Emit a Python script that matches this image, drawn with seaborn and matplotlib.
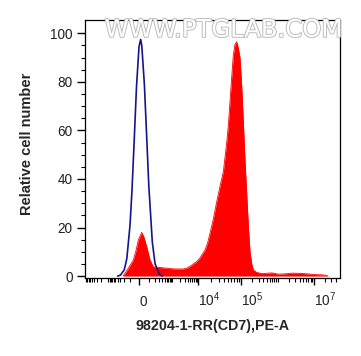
import numpy as np
import seaborn as sns
import matplotlib
matplotlib.use('Agg')
import matplotlib.pyplot as plt
import matplotlib.patheffects as pe

# isotype control (blue outline) and CD7 stained sample (red fill)
blue_x = [-400, -300, -200, -150, -100, -75, -50, -25, 0, 15, 25, 50, 75, 100, 150, 200, 300, 400]
blue_y = [0, 0.4, 2.6, 7.2, 21, 35, 55, 78, 94.5, 97.5, 95, 79, 57, 37, 14, 5, 0.8, 0]

red_x = [-230, -130, -59, -30, -7, 24.5, 46, 75, 116, 166,
         266, 512, 966, 1510, 2600, 3720, 4880, 6560, 8890,
         1.113e4, 1.307e4, 1.455e4, 1.663e4, 1.901e4, 2.27e4, 2.72e4, 3.25e4, 3.88e4, 4.25e4,
         4.65e4, 5.07e4, 5.55e4, 6.08e4, 6.62e4, 7.25e4, 7.94e4, 8.65e4, 9.48e4,
         1.045e5, 1.154e5, 1.28e5, 1.426e5, 1.575e5, 1.75e5, 1.95e5, 2.15e5, 2.66e5,
         3.7e5, 5.37e5, 6.88e5, 1e6, 1.56e6, 2.45e6, 4.08e6, 6.81e6, 1.07e7, 1.67e7, 2.15e7, 2.45e7]
red_y = [0, 3, 6.6, 10.5, 14.8, 18, 16, 12, 6.6, 3.8,
         3.6, 3.3, 3.0, 2.9, 2.9, 3.3, 4.0, 5.0, 6.0,
         7.5, 9.5, 10.7, 13.5, 17.6, 23.5, 30.6, 37, 43, 49,
         55, 62, 72, 82, 91, 95.5, 96.5, 94, 90,
         78, 64, 48, 34, 21, 10, 5, 2.5, 1.5,
         1.0, 1.2, 1.3, 0.8, 0.9, 1.2, 1.1, 0.9, 0.6, 0.5, 0.3, 0]

x_ticks = [0, 1e4, 1e5, 1e7]
x_ticklabels = ['0', r'$\mathregular{10^4}$', r'$\mathregular{10^5}$', r'$\mathregular{10^7}$']

# biexponential-like display scale (arcsinh, then piecewise stretch per decade)
LN10 = np.log(10)
knot_vals = np.array([-1e4, 0, 1e4, 1e5, 1e6, 1e7, 1e8])
knot_disp = np.array([0, 54, 113, 156, 193, 229, 265], dtype=float)


def _s(v):
    return np.arcsinh(np.asarray(v, dtype=float) / 100.0) / LN10


knot_s = _s(knot_vals)


def fwd(v):
    return np.interp(_s(v), knot_s, knot_disp)


def inv(t):
    return 100.0 * np.sinh(np.interp(np.asarray(t, dtype=float), knot_disp, knot_s) * LN10)


sns.set_style('ticks')
plt.rcParams['font.family'] = ['Liberation Sans', 'DejaVu Sans']
plt.rcParams['mathtext.fontset'] = 'custom'
plt.rcParams['mathtext.rm'] = 'Liberation Sans'

fig = plt.figure(figsize=(3.61, 3.56), dpi=100)
ax = fig.add_axes([0.2355, 0.2191, 0.7063, 0.7247])
ax.set_xscale('function', functions=(fwd, inv))

ax.fill_between(red_x, 0, red_y, color='#ff0000', linewidth=0, zorder=2)
sns.lineplot(x=red_x, y=red_y, ax=ax, color='#ff0000', linewidth=0.6, sort=False, estimator=None, zorder=2)
sns.lineplot(x=blue_x, y=blue_y, ax=ax, color='#14148c', linewidth=1.2, sort=False, estimator=None, zorder=3)

ax.set_xlim(-1e4, 5.27e7)
ax.set_ylim(-0.8, 105.5)

ax.set_yticks([0, 20, 40, 60, 80, 100])
ax.set_yticks(np.arange(0, 105, 5), minor=True)
ax.set_xticks(x_ticks)
ax.set_xticklabels(x_ticklabels)
minor = [-m * 10 ** k for k in (2, 3) for m in range(1, 10)]
minor += [m * 10 ** k for k in (2, 3) for m in range(1, 10)]
minor += [m * 10 ** k for k in (4, 5, 6, 7) for m in range(2, 10) if m * 10 ** k < 5e7]
minor += [1e6]
ax.set_xticks(minor, minor=True)

ax.tick_params(axis='both', which='major', direction='out', length=6, width=1, colors='black',
               labelsize=9.8, labelcolor='#222222')
ax.tick_params(axis='both', which='minor', direction='out', length=3, width=0.8, colors='black')
ax.tick_params(axis='y', which='major', pad=3)
ax.tick_params(axis='x', which='major', length=5, pad=15)
for lab in ax.get_xticklabels():
    lab.set_va('baseline')
    lab.set_ha('left')

for sp in ax.spines.values():
    sp.set_color('black')
    sp.set_linewidth(0.9)

ax.set_ylabel('Relative cell number', fontsize=10.5, fontweight='bold')
ax.yaxis.set_label_coords(-0.2, 0.52)
ax.set_xlabel('98204-1-RR(CD7),PE-A', fontsize=10.3, fontweight='bold')
ax.xaxis.set_label_coords(0.5, -0.16)
ax.xaxis.label.set_va('top')

ax.text(0.543, 0.962, 'WWW.PTGLAB.COM', transform=ax.transAxes, ha='center', va='center',
        fontsize=17.5, family='DejaVu Sans', color='white', zorder=5,
        path_effects=[pe.withStroke(linewidth=1.4, foreground='#bdbdbd')])

fig.savefig('out.png', dpi=100)
